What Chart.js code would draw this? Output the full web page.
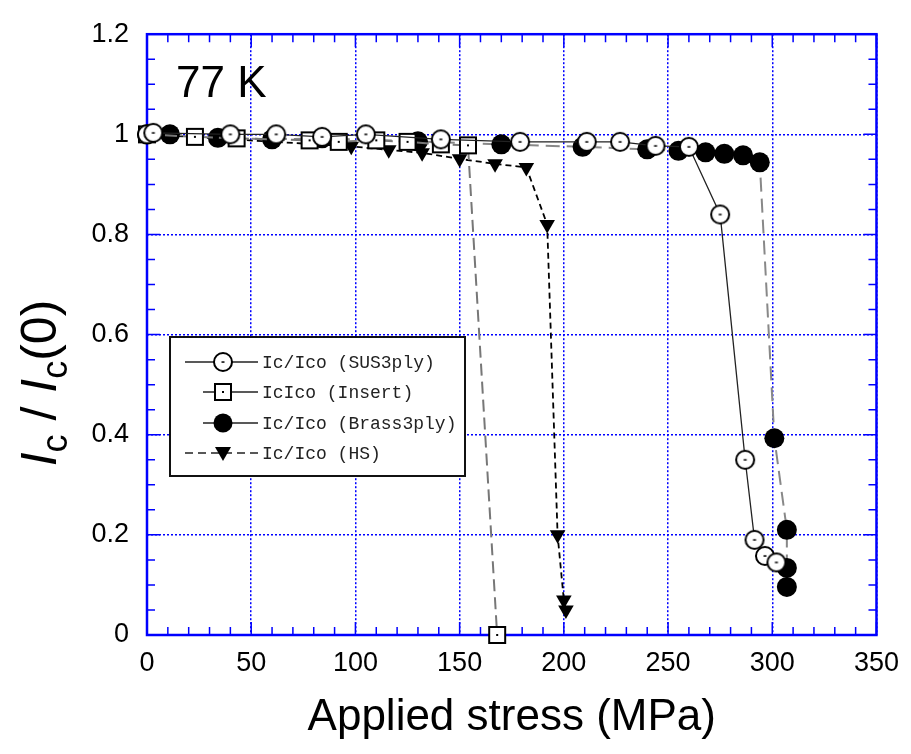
<!DOCTYPE html>
<html>
<head>
<meta charset="utf-8">
<script src="https://cdn.jsdelivr.net/npm/chart.js@4.4.1/dist/chart.umd.min.js"></script>
<style>
  body { margin: 0; background: #fff; }
  #wrap { width: 911px; height: 754px; }
</style>
</head>
<body>
<div id="wrap"><canvas id="ic_chart"></canvas></div>
<script>
// values
const stressSus = [0, 3, 40, 62, 84, 105, 141, 179, 211, 227, 244, 260, 275, 287, 291.5, 296.5, 302];
const icSus = [1.0, 1.003, 1.0, 1.0, 0.995, 1.0, 0.99, 0.985, 0.985, 0.985, 0.977, 0.975, 0.84, 0.35, 0.19, 0.158, 0.145];

const stressInsert = [0, 23, 43, 78, 92, 110, 125, 141, 154, 168];
const icInsert = [1.0, 0.995, 0.992, 0.988, 0.985, 0.988, 0.985, 0.98, 0.978, 0.0];

const stressBrass = [0, 11, 34, 60, 84, 130, 170, 209, 240, 255, 268, 277, 286, 294, 301, 307, 307, 307];
const icBrass = [1.0, 1.0, 0.993, 0.99, 0.992, 0.986, 0.98, 0.975, 0.97, 0.967, 0.964, 0.961, 0.958, 0.944, 0.393, 0.21, 0.134, 0.096];

const stressHs = [0, 98, 116, 132, 150, 167, 182, 192, 197, 200, 201];
const icHs = [1.0, 0.976, 0.969, 0.963, 0.951, 0.941, 0.934, 0.82, 0.2, 0.07, 0.05];

const seriesNames = ['Ic/Ico (SUS3ply)', 'IcIco (Insert)', 'Ic/Ico (Brass3ply)', 'Ic/Ico (HS)'];

function pts(xs, ys) {
    return xs.map((x, i) => ({ x: x, y: ys[i] }));
}

// open markers with the little dot inside
function openCircle() {
    const c = document.createElement('canvas');
    c.width = 22; c.height = 22;
    const g = c.getContext('2d');
    g.fillStyle = '#fff';
    g.strokeStyle = '#000';
    g.lineWidth = 2;
    g.beginPath();
    g.arc(11, 11, 9, 0, Math.PI * 2);
    g.fill();
    g.stroke();
    g.fillStyle = '#000';
    g.fillRect(9.5, 10.3, 3, 1.5);
    return c;
}
function openSquare() {
    const c = document.createElement('canvas');
    c.width = 22; c.height = 22;
    const g = c.getContext('2d');
    g.fillStyle = '#fff';
    g.strokeStyle = '#000';
    g.lineWidth = 2;
    g.fillRect(3, 3, 16, 16);
    g.strokeRect(3, 3, 16, 16);
    g.fillStyle = '#000';
    g.fillRect(10, 10, 2, 2);
    return c;
}
const circleImg = openCircle();
const squareImg = openSquare();

const frame = {
    id: 'frame',
    beforeDatasetsDraw(chart) {
        const { ctx, chartArea: a, scales: { x, y } } = chart;
        ctx.save();
        ctx.strokeStyle = '#0000ff';
        ctx.lineWidth = 1.5;
        ctx.beginPath();
        for (let v = 0; v <= 350; v += 10) {
            const px = x.getPixelForValue(v);
            const len = v % 50 === 0 ? 13 : 8;
            ctx.moveTo(px, a.bottom); ctx.lineTo(px, a.bottom - len);
            ctx.moveTo(px, a.top); ctx.lineTo(px, a.top + len);
        }
        for (let i = 0; i <= 24; i++) {
            const py = y.getPixelForValue(i * 0.05);
            const len = i % 4 === 0 ? 13 : 8;
            ctx.moveTo(a.left, py); ctx.lineTo(a.left + len, py);
            ctx.moveTo(a.right, py); ctx.lineTo(a.right - len, py);
        }
        ctx.stroke();
        ctx.lineWidth = 2.5;
        ctx.strokeRect(a.left, a.top, a.width, a.height);
        ctx.restore();
    }
};

const extras = {
    id: 'extras',
    afterDraw(chart) {
        const ctx = chart.ctx;
        ctx.save();
        // 77 K
        ctx.fillStyle = '#000';
        ctx.font = '44px "Liberation Sans", Arial, sans-serif';
        ctx.textBaseline = 'alphabetic';
        ctx.fillText('77 K', 176, 97);

        // y title: Ic / Ic(0)
        const parts = [
            { t: 'I', f: 'italic 50px "Liberation Sans"', dy: 0 },
            { t: 'c', f: '36px "Liberation Sans"', dy: 11 },
            { t: ' / ', f: '50px "Liberation Sans"', dy: 0 },
            { t: 'I', f: 'italic 50px "Liberation Sans"', dy: 0 },
            { t: 'c', f: '36px "Liberation Sans"', dy: 11 },
            { t: '(0)', f: '50px "Liberation Sans"', dy: 0 }
        ];
        let total = 0;
        parts.forEach(p => { ctx.font = p.f; p.w = ctx.measureText(p.t).width; total += p.w; });
        ctx.translate(56, 383);
        ctx.rotate(-Math.PI / 2);
        let cx = -total / 2;
        parts.forEach(p => { ctx.font = p.f; ctx.fillText(p.t, cx, p.dy); cx += p.w; });
        ctx.restore();

        // legend box
        ctx.save();
        const bx = 170, by = 337, bw = 295, bh = 139;
        ctx.fillStyle = '#fff';
        ctx.fillRect(bx, by, bw, bh);
        ctx.strokeStyle = '#111';
        ctx.lineWidth = 2;
        ctx.strokeRect(bx, by, bw, bh);
        const rows = [362, 392, 423, 453];
        chart.data.datasets.forEach((ds, i) => {
            const ry = rows[i];
            ctx.strokeStyle = '#222';
            ctx.lineWidth = 1.5;
            ctx.setLineDash(i === 3 ? [8, 5] : []);
            ctx.beginPath();
            const x0 = (i === 1 || i === 2) ? 203 : 185;
            ctx.moveTo(x0, ry); ctx.lineTo(258, ry);
            ctx.stroke();
            ctx.setLineDash([]);
            const mx = 223;
            if (ds.pointStyle === circleImg || ds.pointStyle === squareImg) {
                ctx.drawImage(ds.pointStyle, mx - 11, ry - 11);
            } else if (ds.pointStyle === 'circle') {
                ctx.fillStyle = '#000';
                ctx.beginPath(); ctx.arc(mx, ry, 9.5, 0, Math.PI * 2); ctx.fill();
            } else {
                ctx.fillStyle = '#000';
                ctx.beginPath();
                ctx.moveTo(mx - 8, ry - 6); ctx.lineTo(mx + 8, ry - 6); ctx.lineTo(mx, ry + 8);
                ctx.closePath(); ctx.fill();
            }
            ctx.fillStyle = '#222';
            ctx.font = '18px "Liberation Mono", "DejaVu Sans Mono", monospace';
            ctx.textBaseline = 'middle';
            ctx.fillText(seriesNames[i], 262, ry + 1);
        });
        ctx.restore();
    }
};

const chart = new Chart(document.getElementById('ic_chart'), {
    type: 'scatter',
    data: {
        datasets: [{
            label: seriesNames[0],
            data: pts(stressSus, icSus),
            showLine: true,
            borderColor: '#222',
            borderWidth: 1.3,
            pointStyle: circleImg,
            clip: false
        }, {
            label: seriesNames[1],
            data: pts(stressInsert, icInsert),
            showLine: true,
            borderColor: '#777',
            borderWidth: 2,
            borderDash: [12, 6],
            pointStyle: squareImg,
            clip: false
        }, {
            label: seriesNames[2],
            data: pts(stressBrass, icBrass),
            showLine: true,
            borderColor: '#888',
            borderWidth: 2,
            borderDash: [14, 7],
            pointStyle: 'circle',
            pointRadius: 10,
            pointBackgroundColor: '#000',
            pointBorderWidth: 0,
            clip: false
        }, {
            label: seriesNames[3],
            data: pts(stressHs, icHs),
            showLine: true,
            borderColor: '#000',
            borderWidth: 1.8,
            borderDash: [6, 4],
            pointStyle: 'triangle',
            rotation: 180,
            pointRadius: 9,
            pointBackgroundColor: '#000',
            pointBorderWidth: 0,
            clip: false
        }]
    },
    options: {
        responsive: true,
        maintainAspectRatio: false,
        animation: false,
        layout: { padding: { top: 25, right: 32, left: 0, bottom: 0 } },
        plugins: {
            legend: { display: false },
            tooltip: { enabled: false }
        },
        scales: {
            x: {
                type: 'linear',
                min: 0,
                max: 350,
                afterFit: s => { s.height = 119; },
                ticks: {
                    stepSize: 50,
                    padding: 12,
                    color: '#000',
                    font: { family: '"Liberation Sans", Arial, sans-serif', size: 27 },
                    maxRotation: 0
                },
                grid: { color: '#0000ff', lineWidth: 1.5, drawTicks: false },
                border: { display: false, dash: [2, 2] },
                title: {
                    display: true,
                    text: 'Applied stress (MPa)',
                    color: '#000',
                    font: { family: '"Liberation Sans", Arial, sans-serif', size: 44 },
                    padding: { top: 0, bottom: 10 }
                }
            },
            y: {
                type: 'linear',
                min: 0,
                max: 1.2,
                afterFit: s => { s.width = 147; },
                ticks: {
                    stepSize: 0.2,
                    padding: 18,
                    color: '#000',
                    font: { family: '"Liberation Sans", Arial, sans-serif', size: 27 },
                    callback: v => String(+v.toFixed(1))
                },
                grid: { color: '#0000ff', lineWidth: 1.5, drawTicks: false },
                border: { display: false, dash: [2, 2] }
            }
        }
    },
    plugins: [frame, extras]
});
</script>
</body>
</html>
